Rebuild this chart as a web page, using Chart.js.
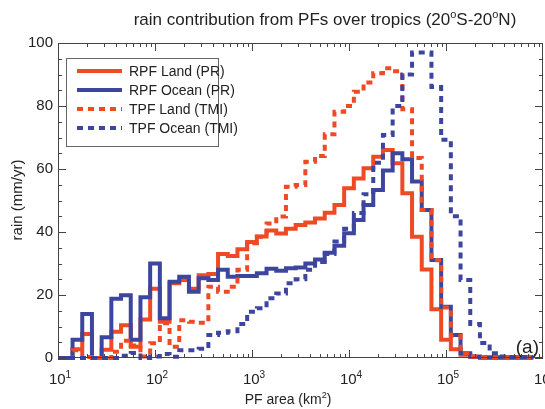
<!DOCTYPE html>
<html>
<head>
<meta charset="UTF-8">
<title>rain contribution from PFs over tropics</title>
<script src="https://cdn.jsdelivr.net/npm/chart.js"></script>
<style>
  html, body { margin: 0; padding: 0; background: #fff; }
</style>
</head>
<body>
<canvas id="chart" width="545" height="409"></canvas>
<script>
  // bin centres, log10 of PF area (km2)
  const binExp = [1.0, 1.1, 1.2, 1.3, 1.4, 1.5, 1.6, 1.7, 1.8, 1.9,
                  2.0, 2.1, 2.2, 2.3, 2.4, 2.5, 2.6, 2.7, 2.8, 2.9,
                  3.0, 3.1, 3.2, 3.3, 3.4, 3.5, 3.6, 3.7, 3.8, 3.9,
                  4.0, 4.1, 4.2, 4.3, 4.4, 4.5, 4.6, 4.7, 4.8, 4.9,
                  5.0, 5.1, 5.2, 5.3, 5.4, 5.5, 5.6, 5.7, 5.8, 5.9];

  const rpfLand = [0, 0, 2.8, 7.6, 0, 2.6, 8.3, 10.4, 3.6, 12.2,
                   22, 11.5, 23.7, 24.8, 22, 26.3, 26.7, 33, 32.4, 34.5,
                   36.8, 38.6, 40.5, 39.5, 41, 42.2, 43, 44.3, 46.1, 48.6,
                   53.9, 57, 60.2, 63.9, 66, 61.8, 52.3, 38.5, 28.1, 15.5,
                   5.8, 2.8, 1, 0.3, 0, 0, 0, 0, 0, 0];

  const rpfOcean = [0, 0, 5.8, 14, 0, 6.6, 18.8, 19.9, 5.8, 19.3,
                    30, 12.6, 24.2, 25.8, 21, 25.3, 24.8, 28, 25.8, 26,
                    26, 26.9, 28.3, 27.7, 28.5, 28.7, 30, 31.3, 33.4, 35.6,
                    39.6, 43.8, 48.6, 53.3, 59.5, 65, 63.1, 56, 47, 31.1,
                    16.3, 7.3, 1.5, 0.5, 0.2, 0.2, 0.2, 0.2, 0.2, 0.2];

  const tpfLand = [0, 0, 2.5, 0.3, 0, 0, 2, 5.5, 4, 0.5,
                   4.7, 11, 3.6, 12, 11.5, 11.2, 22.6, 21, 22.6, 28,
                   36.4, 38.5, 42.7, 44.9, 54.4, 54.9, 62.3, 64.1, 71, 78.2,
                   80, 84.5, 87.5, 90.4, 92, 91, 79, 63.5, 47, 31,
                   16, 7, 1.5, 0.5, 0.2, 0.2, 0.2, 0.2, 0.2, 0.2];

  const tpfOcean = [0, 0, 0, 0, 0, 0, 0, 0.7, 1.6, 0,
                    0.5, 1.3, 0.4, 2.5, 2.5, 2.9, 7.3, 8, 8.5, 10.8,
                    14.7, 15.8, 19, 20.5, 23.7, 25, 28, 30.5, 33, 37,
                    41, 46, 52, 62, 70.8, 80, 90, 97, 97, 86,
                    69.3, 45, 24.8, 10.8, 4.8, 1.5, 0.5, 0.3, 0.3, 0.3];

  const yTicks = [0, 20, 40, 60, 80, 100];
  const xDecades = [1, 2, 3, 4, 5, 6];

  const RED = '#ee4a26';
  const BLUE = '#3d469e';
  const FONT = '"Liberation Sans Narrow", "Liberation Sans", Arial, sans-serif';

  function toPoints(vals) {
    return vals.map((v, i) => ({ x: Math.pow(10, binExp[i]), y: v }));
  }

  // draws text made of pieces, some of them superscript
  function drawPieces(ctx, pieces, x, y, size, align) {
    const supSize = Math.round(size * 0.65);
    let total = 0;
    pieces.forEach(p => {
      ctx.font = (p.sup ? supSize : size) + 'px ' + FONT;
      p.w = ctx.measureText(p.t).width;
      total += p.w;
    });
    let cx = align === 'center' ? x - total / 2 : (align === 'right' ? x - total : x);
    ctx.textAlign = 'left';
    ctx.textBaseline = 'alphabetic';
    pieces.forEach(p => {
      ctx.font = (p.sup ? supSize : size) + 'px ' + FONT;
      ctx.fillText(p.t, cx, p.sup ? y - size * 0.42 : y);
      cx += p.w;
    });
  }

  const decorations = {
    id: 'decorations',
    afterDatasetsDraw(chart) {
      const { ctx, chartArea: a, scales: { x, y } } = chart;
      ctx.save();
      ctx.strokeStyle = '#444';
      ctx.fillStyle = '#222';
      ctx.lineWidth = 1;
      const seg = (x1, y1, x2, y2) => { ctx.beginPath(); ctx.moveTo(x1, y1); ctx.lineTo(x2, y2); ctx.stroke(); };

      // frame
      ctx.strokeRect(a.left + 0.5, a.top + 0.5, a.right - a.left - 1, a.bottom - a.top - 1);

      // x ticks (inward, top and bottom)
      for (let d = 1; d < 6; d++) {
        for (let m = 1; m <= 9; m++) {
          const px = Math.round(x.getPixelForValue(m * Math.pow(10, d))) + 0.5;
          const len = m === 1 ? 8 : 4;
          seg(px, a.bottom, px, a.bottom - len);
          seg(px, a.top, px, a.top + len);
        }
      }
      // y ticks every 5, longer every 20
      for (let v = 0; v <= 100; v += 5) {
        const py = Math.round(y.getPixelForValue(v)) + 0.5;
        const len = v % 20 === 0 ? 8 : 4;
        seg(a.left, py, a.left + len, py);
        seg(a.right, py, a.right - len, py);
      }

      // y tick labels
      ctx.font = '15px ' + FONT;
      ctx.textAlign = 'right';
      ctx.textBaseline = 'middle';
      yTicks.forEach(v => ctx.fillText(String(v), a.left - 5, y.getPixelForValue(v)));

      // x tick labels
      xDecades.forEach(d => {
        drawPieces(ctx, [{ t: '10' }, { t: String(d), sup: true }],
                   x.getPixelForValue(Math.pow(10, d)) + 2, a.bottom + 26, 15, 'center');
      });

      // title and axis titles
      drawPieces(ctx, [{ t: 'rain contribution from PFs over tropics (20' }, { t: 'o', sup: true },
                       { t: 'S-20' }, { t: 'o', sup: true }, { t: 'N)' }], 325, 25, 17, 'center');
      drawPieces(ctx, [{ t: 'PF area (km' }, { t: '2', sup: true }, { t: ')' }], 288, 404, 14, 'center');
      ctx.save();
      ctx.translate(22, 200);
      ctx.rotate(-Math.PI / 2);
      drawPieces(ctx, [{ t: 'rain (mm/yr)' }], 0, 0, 15, 'center');
      ctx.restore();

      // panel letter
      drawPieces(ctx, [{ t: '(a)' }], a.right - 4, a.bottom - 5, 19, 'right');

      // legend
      ctx.fillStyle = '#fff';
      ctx.fillRect(66, 58, 152, 88);
      ctx.strokeStyle = '#666';
      ctx.strokeRect(66.5, 58.5, 152, 88);
      const rows = [71, 90, 109, 128];
      chart.data.datasets.forEach((ds, i) => {
        const ry = rows[i];
        ctx.strokeStyle = ds.borderColor;
        ctx.lineWidth = ds.borderWidth;
        ctx.setLineDash(ds.borderDash || []);
        seg(77, ry, 122, ry);
        ctx.setLineDash([]);
        ctx.fillStyle = '#222';
        drawPieces(ctx, [{ t: ds.label }], 129, ry + 5, 14, 'left');
      });
      ctx.restore();
    }
  };

  new Chart(document.getElementById('chart'), {
    type: 'line',
    data: {
      datasets: [
        { label: 'RPF Land (PR)', data: toPoints(rpfLand), borderColor: RED, borderWidth: 4, order: 3 },
        { label: 'RPF Ocean (PR)', data: toPoints(rpfOcean), borderColor: BLUE, borderWidth: 4, order: 2 },
        { label: 'TPF Land (TMI)', data: toPoints(tpfLand), borderColor: RED, borderWidth: 4, borderDash: [6, 5], order: 1 },
        { label: 'TPF Ocean (TMI)', data: toPoints(tpfOcean), borderColor: BLUE, borderWidth: 4, borderDash: [6, 5], order: 0 }
      ]
    },
    options: {
      responsive: false,
      animation: false,
      layout: { padding: { left: 58, right: 2, top: 43, bottom: 51 } },
      elements: { point: { radius: 0 }, line: { stepped: 'middle', fill: false, borderCapStyle: 'butt' } },
      datasets: { line: { clip: 6 } },
      scales: {
        x: { type: 'logarithmic', min: 10, max: 1e6, display: false },
        y: { type: 'linear', min: 0, max: 100, display: false }
      },
      plugins: { legend: { display: false }, title: { display: false }, tooltip: { enabled: false } }
    },
    plugins: [decorations]
  });
</script>
</body>
</html>
